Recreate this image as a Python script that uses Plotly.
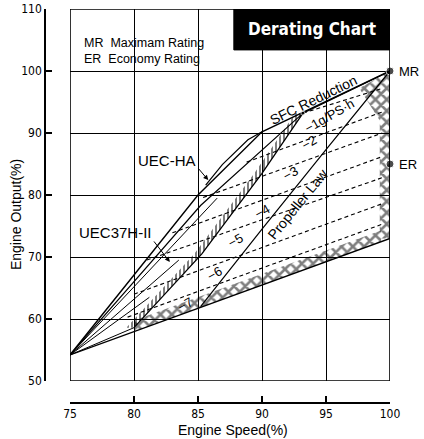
import numpy as np
import plotly.graph_objects as go

# ---------------- data ----------------
SPEED_TICKS = [75, 80, 85, 90, 95, 100]
OUTPUT_TICKS = [50, 60, 70, 80, 90, 100, 110]

ORIGIN = (75, 54.2)
MR_POINT = (100, 100)
ER_POINT = (100, 85)
KNEE_POINT = (93.2, 93.2)

UEC_HA_X = [75, 85, 90, 100]
UEC_HA_Y = [54.2, 80, 90.2, 100]
UEC_HA_BUMP_X = [85.6, 86.9, 88.9, 90]
UEC_HA_BUMP_Y = [81.6, 84.9, 88.9, 90.2]

UEC37_X = [75, 85.2, 93.2, 100]
UEC37_Y = [54.2, 78.3, 93.2, 100]

FAN_END_X = [86.5, 83.5, 81.2, 80.0]
FAN_END_Y = [79.5, 69.5, 63.5, 58.6]

LOWER_X = [75, 100]
LOWER_Y = [54.2, 73]

HATCH_X = [80.0, 85.3, 90.0, 93.2]
HATCH_Y = [58.6, 70.5, 83.5, 93.2]

PROP_X = [85.2, 90, 95, 100]
PROP_Y = [62, 74.5, 87.3, 100]

SFC_LABELS = ["−1g/PS·h", "−2", "−3", "−4", "−5", "−6", "−7"]
DASH_X0 = [93.2, 88.8, 85.4, 83.0, 81.0, 80.0, 79.5]
DASH_Y0 = [93.2, 85.3, 79.6, 73.9, 69.5, 64.0, 60.3]
DASH_X1 = [99.4, 99.4, 99.4, 99.4, 99.4, 99.4, 99.4]
DASH_Y1 = [97.2, 93.4, 90.0, 86.2, 82.8, 78.6, 75.3]
LABEL_X = [95.3, 93.7, 92.2, 90.0, 87.9, 86.3, 84.0]
LABEL_Y = [92.8, 88.4, 83.5, 77.3, 72.7, 67.4, 62.3]

RIGHT_BAND_X = [99.2, 100, 100, 97.6, 99.2, 99.2]
RIGHT_BAND_Y = [73, 73, 100, 97.2, 92, 73]

# ---------------- figure ----------------
NARROW = "Liberation Sans Narrow, DejaVu Sans Condensed, Arial Narrow, sans-serif"
SANS = "Liberation Sans, Arial, sans-serif"

fig = go.Figure()


def add_line(x, y, dash="solid", width=1.2):
    fig.add_trace(go.Scatter(x=x, y=y, mode="lines",
                             line=dict(color="black", width=width, dash=dash),
                             hoverinfo="skip", showlegend=False))


def add_band(x, y, shape, size, solidity):
    fig.add_trace(go.Scatter(x=x, y=y, mode="lines", fill="toself",
                             line=dict(width=0, color="black"),
                             fillcolor="rgba(0,0,0,0)",
                             fillpattern=dict(shape=shape, fgcolor="black",
                                              size=size, solidity=solidity),
                             hoverinfo="skip", showlegend=False))


# cross-hatch along the lower limit
bx = np.array([80.0, 99.3])
by = np.interp(bx, LOWER_X, LOWER_Y)
add_band(list(bx) + list(bx[::-1]), list(by) + list((by + 1.8)[::-1]), "x", 8, 0.55)
# cross-hatch along the right limit
add_band(RIGHT_BAND_X, RIGHT_BAND_Y, "x", 8, 0.55)
# tick hatch along the inner limit
hx = np.array(HATCH_X)
hy = np.array(HATCH_Y)
add_band(list(hx) + list((hx - 0.6)[::-1]), list(hy) + list(hy[::-1]), "|", 4, 0.5)
add_line(HATCH_X, HATCH_Y, width=1.3)

# envelopes
add_line(UEC_HA_X, UEC_HA_Y, width=1.4)
add_line(UEC_HA_BUMP_X, UEC_HA_BUMP_Y, width=1.2)
add_line(UEC37_X, UEC37_Y, width=1.2)
for fx, fy in zip(FAN_END_X, FAN_END_Y):
    add_line([ORIGIN[0], fx], [ORIGIN[1], fy], width=1.0)
add_line(LOWER_X, LOWER_Y, width=1.4)
add_line([100, 100], [LOWER_Y[-1], 100], width=1.8)
add_line(PROP_X, PROP_Y, width=1.2)

# SFC reduction contours
for x0, y0, x1, y1 in zip(DASH_X0, DASH_Y0, DASH_X1, DASH_Y1):
    add_line([x0, x1], [y0, y1], dash="4px,3px", width=1.1)

# points
fig.add_trace(go.Scatter(x=[MR_POINT[0], ER_POINT[0], KNEE_POINT[0]],
                         y=[MR_POINT[1], ER_POINT[1], KNEE_POINT[1]],
                         mode="markers", marker=dict(color="black", size=[8, 8, 4]),
                         cliponaxis=False, hoverinfo="skip", showlegend=False))

shapes = [
    dict(type="rect", xref="x", yref="y", x0=75, x1=100, y0=50, y1=110,
         line=dict(color="black", width=1.6), layer="above"),
    dict(type="rect", xref="x", yref="y", x0=87.8, x1=100, y0=103.4, y1=110.2,
         fillcolor="black", line=dict(color="black", width=1), layer="above"),
]

annotations = [
    dict(x=93.9, y=106.8, xref="x", yref="y", text="<b>Derating Chart</b>",
         showarrow=False, font=dict(family=NARROW, size=17, color="white")),
    dict(x=75.9, y=104.5, xref="x", yref="y", text="MR  Maximam Rating",
         showarrow=False, xanchor="left", font=dict(family=SANS, size=12.5, color="black")),
    dict(x=75.9, y=101.9, xref="x", yref="y", text="ER  Economy Rating",
         showarrow=False, xanchor="left", font=dict(family=SANS, size=12.5, color="black")),
    dict(x=100, y=100, xref="x", yref="y", text="MR", showarrow=False,
         xanchor="left", xshift=7, font=dict(family=SANS, size=13, color="black")),
    dict(x=100, y=85, xref="x", yref="y", text="ER", showarrow=False,
         xanchor="left", xshift=7, font=dict(family=SANS, size=13, color="black")),
    dict(x=94.0, y=95.3, xref="x", yref="y", text="SFC Reduction", showarrow=False,
         textangle=-26, font=dict(family=SANS, size=14, color="black")),
    dict(x=92.8, y=78.5, xref="x", yref="y", text="Propeller Law", showarrow=False,
         textangle=-51, font=dict(family=SANS, size=14, color="black")),
    dict(x=82.6, y=85.6, xref="x", yref="y", text="UEC-HA", showarrow=False,
         font=dict(family=SANS, size=15, color="black")),
    dict(x=78.55, y=74.0, xref="x", yref="y", text="UEC37H-II", showarrow=False,
         font=dict(family=SANS, size=15, color="black")),
    dict(x=85.8, y=82.4, xref="x", yref="y", text="", showarrow=True, ax=-11, ay=-13,
         arrowhead=2, arrowsize=1, arrowwidth=1, arrowcolor="black"),
    dict(x=82.8, y=69.2, xref="x", yref="y", text="", showarrow=True, ax=-17, ay=-22,
         arrowhead=2, arrowsize=1, arrowwidth=1, arrowcolor="black"),
    dict(x=0, y=0.477, xref="paper", yref="paper", xshift=-29, xanchor="center",
         yanchor="middle", text="Engine Output(%)",
         showarrow=False, textangle=-90, font=dict(family=SANS, size=14, color="black")),
    dict(x=0.545, y=-0.0685, xref="paper", yref="paper", xanchor="center",
         yanchor="middle", text="Engine Speed(%)",
         showarrow=False, font=dict(family=SANS, size=14, color="black")),
]
for lab, lx, ly in zip(SFC_LABELS, LABEL_X, LABEL_Y):
    annotations.append(dict(x=lx, y=ly, xref="x", yref="y", text=lab, showarrow=False,
                            textangle=-30, font=dict(family=SANS, size=13, color="black")))

fig.update_layout(
    width=424, height=439,
    margin=dict(l=45, r=34, t=9, b=36, autoexpand=False),
    plot_bgcolor="white", paper_bgcolor="white",
    showlegend=False,
    shapes=shapes, annotations=annotations,
    xaxis=dict(range=[75, 100], domain=[25 / 345, 1], anchor="free", position=0,
               automargin=False,
               tickvals=SPEED_TICKS, ticktext=[str(v) for v in SPEED_TICKS],
               ticks="inside", ticklen=6, tickwidth=1.5, tickcolor="black",
               showline=True, linecolor="black", linewidth=1.5,
               showgrid=True, gridcolor="black", gridwidth=1.4, zeroline=False,
               tickfont=dict(family=NARROW, size=12, color="black")),
    yaxis=dict(range=[50, 110], domain=[22 / 394, 1], anchor="free", position=0,
               automargin=False,
               tickvals=OUTPUT_TICKS, ticktext=[str(v) for v in OUTPUT_TICKS],
               ticks="inside", ticklen=6, tickwidth=1.5, tickcolor="black",
               showline=True, linecolor="black", linewidth=1.5,
               showgrid=True, gridcolor="black", gridwidth=1.4, zeroline=False,
               tickfont=dict(family=NARROW, size=12, color="black")),
)

fig.write_html("out.html", config={"displayModeBar": False},
               post_script="document.body.style.margin='0';document.body.style.overflow='hidden';")
